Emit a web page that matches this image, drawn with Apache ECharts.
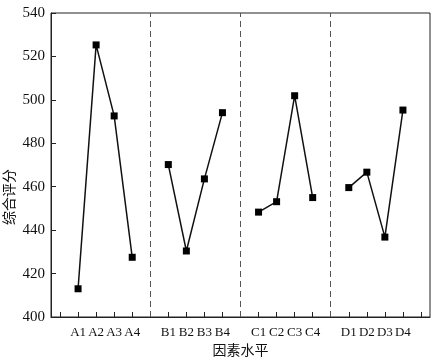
<!DOCTYPE html>
<html><head><meta charset="utf-8">
<script src="https://cdn.jsdelivr.net/npm/echarts@6/dist/echarts.min.js"></script>
<style>html,body{margin:0;padding:0;background:#fff}#c{width:434px;height:362px}</style>
</head><body><div id="c"></div>
<script>
var categories = ['', 'A1', 'A2', 'A3', 'A4', '', 'B1', 'B2', 'B3', 'B4', '', 'C1', 'C2', 'C3', 'C4', '', 'D1', 'D2', 'D3', 'D4', ''];
var scores = [null, 413, 525.3, 492.6, 427.5, null, 470.2, 430.4, 463.6, 494.1, null, 448.3, 453.1, 501.9, 455, null, 459.6, 466.7, 436.8, 495.3, null];
var dividers = [5, 10, 15];
var yTicks = { min: 400, max: 540, interval: 20 };
var xTitle = '因素水平';
var yTitle = '综合评分';

var font = '"Liberation Serif", "Noto Sans CJK SC", serif';
var chart = echarts.init(document.getElementById('c'));
chart.setOption({
  animation: false,
  grid: { left: 51, right: 4, top: 13, bottom: 45, show: true, borderColor: '#222', borderWidth: 1, containLabel: false, outerBoundsMode: 'none' },
  graphic: [{
    type: 'text', x: 10, y: 197, rotation: Math.PI / 2,
    style: { text: yTitle, fontFamily: font, fontSize: 14, fill: '#111', align: 'center', verticalAlign: 'middle' }
  }],
  xAxis: {
    type: 'category', data: categories, boundaryGap: true,
    name: xTitle, nameLocation: 'middle', nameGap: 21,
    nameTextStyle: { fontFamily: font, fontSize: 14, color: '#111' },
    axisLine: { lineStyle: { color: '#222', width: 1 } },
    axisTick: { show: true, inside: true, length: 5, alignWithLabel: true, interval: 0, lineStyle: { color: '#222', width: 1 } },
    axisLabel: { interval: 0, margin: 9, fontFamily: font, fontSize: 13, color: '#111' },
    splitLine: { show: false }
  },
  yAxis: {
    type: 'value', min: yTicks.min, max: yTicks.max, interval: yTicks.interval,
    axisLine: { show: true, lineStyle: { color: '#222', width: 1 } },
    axisTick: { show: true, inside: true, length: 5, lineStyle: { color: '#222', width: 1 } },
    axisLabel: { margin: 6, fontFamily: font, fontSize: 15, color: '#111' },
    splitLine: { show: false }
  },
  series: [{
    type: 'line', data: scores, connectNulls: false,
    symbol: 'rect', symbolSize: 7,
    lineStyle: { color: '#111', width: 1.5 },
    itemStyle: { color: '#000' },
    markLine: {
      silent: true, symbol: 'none', label: { show: false },
      lineStyle: { color: '#555', type: [6, 4], width: 1 },
      data: dividers.map(function (d) { return { xAxis: d }; })
    }
  }]
});
</script></body></html>
